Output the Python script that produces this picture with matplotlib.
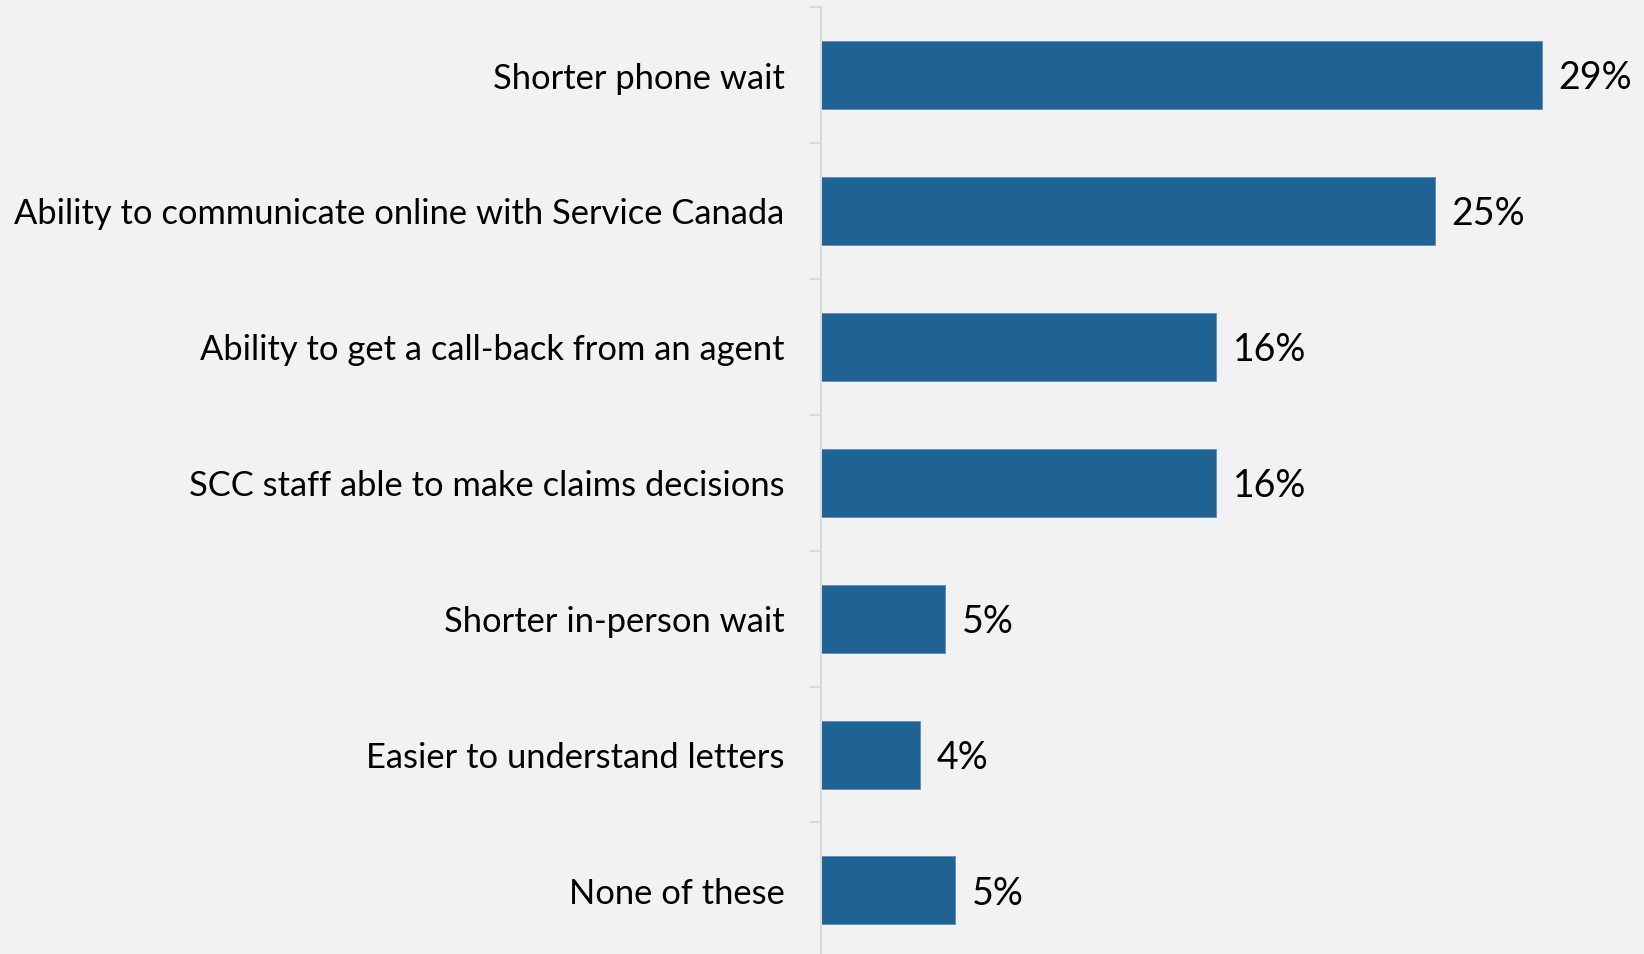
import matplotlib
matplotlib.use("Agg")
import matplotlib.pyplot as plt

# survey responses, top to bottom
categories = [
    "Shorter phone wait",
    "Ability to communicate online with Service Canada",
    "Ability to get a call-back from an agent",
    "SCC staff able to make claims decisions",
    "Shorter in-person wait",
    "Easier to understand letters",
    "None of these",
]
values = [29.0, 24.7, 15.9, 15.9, 5.0, 4.0, 5.4]

BG = "#F2F2F2"
BAR = "#1F6294"
GRID = "#D9D9D9"

plt.rcParams["font.family"] = ["Lato", "DejaVu Sans"]

fig = plt.figure(figsize=(16.44, 9.545), dpi=100, facecolor=BG)
ax = fig.add_axes([0.4992, -0.0046, 0.5008, 0.9966])
ax.set_facecolor(BG)

pos = list(range(len(categories)))
ax.barh(pos, values, height=0.5, color=BAR, edgecolor="#5B8DB8", linewidth=0.6)

for y, v in zip(pos, values):
    ax.annotate("{:.0f}%".format(v), (v, y), xytext=(12, -2),
                textcoords="offset points", va="center", ha="left",
                fontsize=27, color="black")

ax.set_xlim(0, 33.12)
ax.set_ylim(6.5, -0.5)
ax.set_xticks([])

ax.set_yticks(pos)
ax.set_yticklabels(categories, fontsize=24.8)
ax.tick_params(axis="y", which="major", length=0, pad=26)
ax.set_yticks([p - 0.5 for p in pos] + [6.5], minor=True)
ax.tick_params(axis="y", which="minor", length=8, width=1.5, color=GRID)

for s in ["top", "right", "bottom"]:
    ax.spines[s].set_visible(False)
ax.spines["left"].set_color(GRID)
ax.spines["left"].set_linewidth(1.5)

fig.savefig("out.png", dpi=100, facecolor=BG)
